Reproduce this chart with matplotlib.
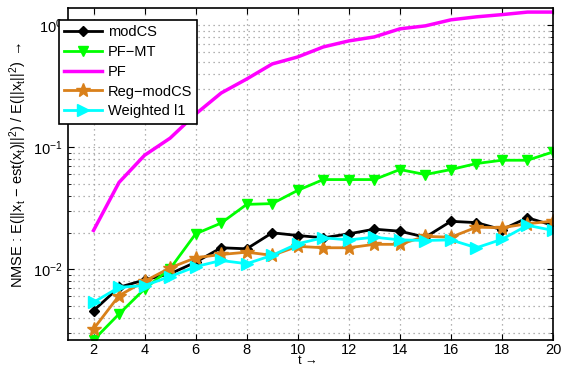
import matplotlib
matplotlib.use('Agg')
import matplotlib.pyplot as plt
from matplotlib.ticker import LogLocator, NullFormatter

plt.rcParams['font.family'] = ['Liberation Sans', 'DejaVu Sans']
plt.rcParams['mathtext.fontset'] = 'custom'
plt.rcParams['mathtext.rm'] = 'Liberation Sans'
plt.rcParams['mathtext.it'] = 'Liberation Sans'
plt.rcParams['font.size'] = 10

t = list(range(2, 21))

modcs = [0.00458, 0.00711, 0.00818, 0.00917, 0.01142, 0.0150, 0.0147, 0.0199, 0.0189,
         0.0181, 0.0195, 0.0213, 0.0205, 0.0183, 0.0247, 0.0241, 0.0211, 0.0264, 0.0229]
pfmt = [0.00263, 0.00430, 0.00690, 0.0101, 0.0195, 0.0239, 0.0340, 0.0345, 0.0443,
        0.0543, 0.0543, 0.0543, 0.0656, 0.0597, 0.0656, 0.0735, 0.0782, 0.0782, 0.0915]
pf = [0.0208, 0.0515, 0.0859, 0.1186, 0.187, 0.278, 0.362, 0.481, 0.549,
      0.663, 0.743, 0.801, 0.933, 0.987, 1.106, 1.17, 1.22, 1.28, 1.28]
regmodcs = [0.00324, 0.00608, 0.00797, 0.01027, 0.01242, 0.01321, 0.0138, 0.0130, 0.0154,
            0.0150, 0.0150, 0.0160, 0.0160, 0.0186, 0.0183, 0.0221, 0.0219, 0.0236, 0.0248]
weightedl1 = [0.00536, 0.00711, 0.00735, 0.00871, 0.0105, 0.0118, 0.0111, 0.0130, 0.0162,
              0.0181, 0.0174, 0.0183, 0.0174, 0.0172, 0.0174, 0.0150, 0.0176, 0.0229, 0.0208]

fig = plt.figure(figsize=(5.62, 3.68), dpi=100)
ax = fig.add_axes([0.121, 0.076, 0.863, 0.902])

lw = 2
ax.semilogy(t, modcs, color='k', marker='D', markersize=5, lw=lw, label='modCS')
ax.semilogy(t, pfmt, color='#00ff00', marker='v', markersize=7, lw=lw, label='PF\u2212MT')
ax.semilogy(t, pf, color='#ff00ff', lw=2.5, label='PF')
ax.semilogy(t, regmodcs, color='#d9801a', marker='*', markersize=10, lw=lw, label='Reg\u2212modCS')
ax.semilogy(t, weightedl1, color='#00ffff', marker='>', markersize=8, lw=lw, label='Weighted l1')

ax.set_xlim(1, 20)
ax.set_ylim(0.00263, 1.38)
ax.set_xticks(range(2, 21, 2))
ax.yaxis.set_major_locator(LogLocator(base=10))
ax.yaxis.set_minor_locator(LogLocator(base=10, subs=range(2, 10)))
ax.yaxis.set_minor_formatter(NullFormatter())

grid_style = dict(color='#999999', linestyle=(0, (1, 3)), linewidth=0.9)
ax.grid(True, which='major', **grid_style)
ax.grid(True, which='minor', axis='y', **grid_style)
ax.tick_params(which='both', direction='in', top=True, right=True, labelsize=10.5)
ax.tick_params(axis='x', which='major', length=4, pad=2)
ax.tick_params(axis='y', which='major', length=4, pad=4)
ax.tick_params(which='minor', length=2)
for s in ax.spines.values():
    s.set_linewidth(1.2)

# axis labels placed by hand, like the original figure
fig.text(308 / 562, 1 - 361.5 / 368, 't \u2192', fontsize=9,
         ha='center', va='center')
fig.text(18 / 562, 1 - 165 / 368,
         r'NMSE : E(||x$_t$ $-$ est(x$_t$)||$^2$) / E(||x$_t$||$^2$) $\rightarrow$',
         fontsize=10.5, rotation=90, ha='center', va='center')

leg = ax.legend(loc='upper left', bbox_to_anchor=(59 / 562, 1 - 20 / 368),
                bbox_transform=fig.transFigure, fontsize=10.5, fancybox=False,
                framealpha=1, edgecolor='k', borderpad=0.35, labelspacing=0.4,
                handlelength=2.6, handletextpad=0.4, borderaxespad=0)
leg.get_frame().set_linewidth(1.2)

fig.savefig('out.png', dpi=100)
